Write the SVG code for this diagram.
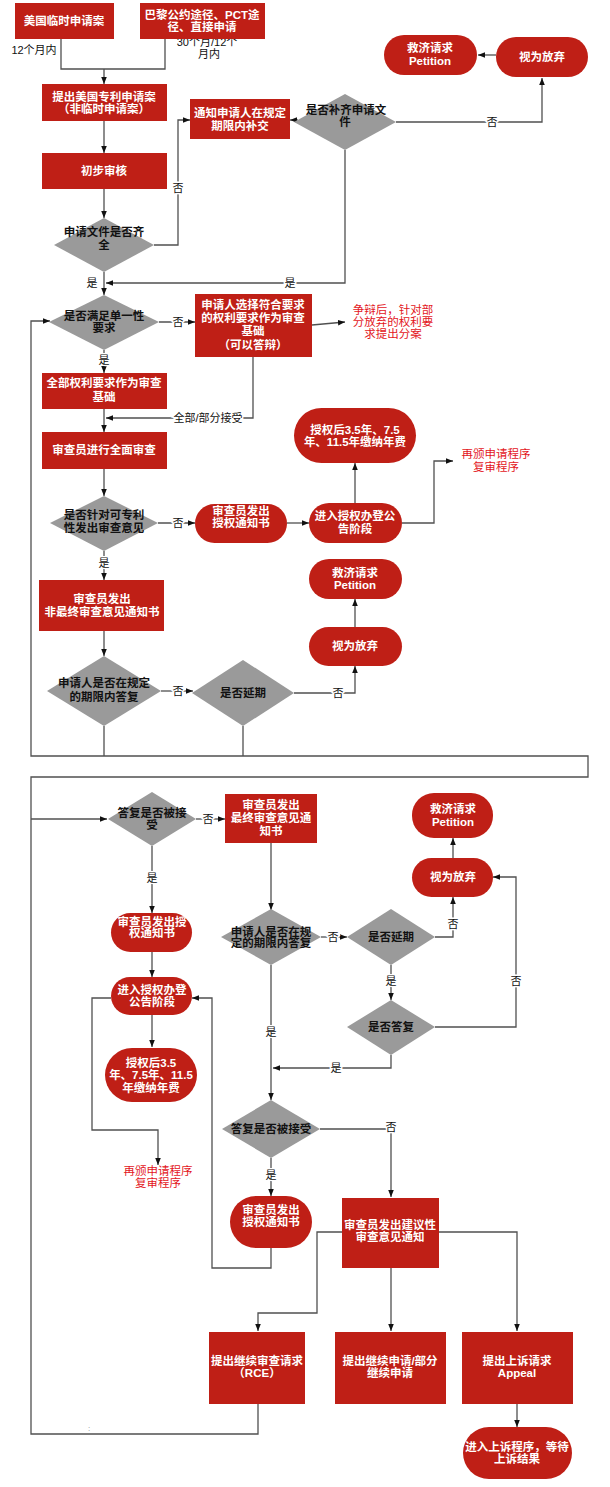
<svg xmlns="http://www.w3.org/2000/svg" width="610" height="1487" viewBox="0 0 610 1487">
<defs>
<style>
.box{fill:#BF1F16}
.dia{fill:#9A9A9A}
text{font-family:"Liberation Sans","Noto Sans CJK SC",sans-serif;dominant-baseline:central;text-anchor:middle}
.wt{fill:#fff;font-weight:bold;font-size:11.5px}
.bt{fill:#111;font-weight:bold;font-size:11.5px}
.lbl{fill:#111;font-size:11px;stroke:#fff;stroke-width:3;paint-order:stroke}
.plain{fill:#111;font-size:11px}
.red{fill:#E3161C;font-size:11.5px}
.ln{fill:none;stroke:#505050;stroke-width:1.3}
.ar{marker-end:url(#ah)}
</style>
<marker id="ah" viewBox="0 0 10 10" refX="10" refY="5" markerWidth="7" markerHeight="7" orient="auto" markerUnits="userSpaceOnUse"><path d="M0,1 L10,5 L0,9 z" fill="#111"/></marker>
</defs>
<rect width="610" height="1487" fill="#fff"/>

<g id="connectors">
<path class="ln" d="M61,39 V69 H165 V39"/>
<path class="ln ar" d="M104,69 V84"/>
<path class="ln ar" d="M104,121 V153"/>
<path class="ln ar" d="M104,189 V218"/>
<path class="ln ar" d="M154,245 H178 V120 H190"/>
<path class="ln ar" d="M298,120 H290"/>
<path class="ln ar" d="M396,122 H542 V78"/>
<path class="ln ar" d="M496,55 H478"/>
<path class="ln ar" d="M345,150 V283 H106"/>
<path class="ln ar" d="M104,272 V295"/>
<path class="ln ar" d="M159,322 H195"/>
<path class="ln ar" d="M312,325 L345,322"/>
<path class="ln ar" d="M258,1404 V1434 H31 V777 H588 V756 H31 V321 H50"/>
<path class="ln ar" d="M31,819 H107"/>
<path class="ln ar" d="M104,350 V373"/>
<path class="ln ar" d="M104,409 V432"/>
<path class="ln ar" d="M253,357 V418 H106"/>
<path class="ln ar" d="M104,469 V496"/>
<path class="ln ar" d="M158,523 H195"/>
<path class="ln ar" d="M287,523 H309"/>
<path class="ln ar" d="M355,503 V463"/>
<path class="ln ar" d="M402,523 H434 V461 H453"/>
<path class="ln ar" d="M104,551 V580"/>
<path class="ln ar" d="M104,631 V656"/>
<path class="ln ar" d="M161,691 H193"/>
<path class="ln ar" d="M294,693 H355 V666"/>
<path class="ln ar" d="M355,627 V599"/>
<path class="ln" d="M104,726 V756"/>
<path class="ln" d="M243,726 V756"/>
<path class="ln ar" d="M196,819 H225"/>
<path class="ln ar" d="M271,843 V910"/>
<path class="ln ar" d="M152,846 V913"/>
<path class="ln ar" d="M152,952 V977"/>
<path class="ln ar" d="M152,1015 V1047"/>
<path class="ln ar" d="M111,998 H92 V1130 H158 V1165"/>
<path class="ln ar" d="M321,937 H347"/>
<path class="ln ar" d="M435,937 H453 V897"/>
<path class="ln ar" d="M453,858 V838"/>
<path class="ln ar" d="M391,965 V1000"/>
<path class="ln ar" d="M435,1027 H516 V877 H493"/>
<path class="ln ar" d="M391,1055 V1068 H273"/>
<path class="ln ar" d="M271,965 V1100"/>
<path class="ln ar" d="M320,1129 H391 V1197"/>
<path class="ln ar" d="M271,1158 V1196"/>
<path class="ln ar" d="M271,1248 V1268 H212 V998 H192"/>
<path class="ln ar" d="M342,1232 H317 V1313 H258 V1331"/>
<path class="ln ar" d="M391,1268 V1331"/>
<path class="ln ar" d="M439,1232 H517 V1331"/>
<path class="ln ar" d="M517,1404 V1427"/>
</g>

<g id="labels">
<text class="plain" x="34" y="50">12个月内</text>
<text class="plain" x="207" y="42">30个月/12个</text>
<text class="plain" x="209" y="54">月内</text>
<text class="lbl" x="178" y="188">否</text>
<text class="lbl" x="492" y="122">否</text>
<text class="lbl" x="92" y="283">是</text>
<text class="lbl" x="290" y="283">是</text>
<text class="lbl" x="178" y="322">否</text>
<text class="lbl" x="104" y="360">是</text>
<text class="lbl" x="208" y="418">全部/部分接受</text>
<text class="lbl" x="178" y="523">否</text>
<text class="lbl" x="104" y="563">是</text>
<text class="lbl" x="178" y="691">否</text>
<text class="lbl" x="338" y="693">否</text>
<text class="lbl" x="208" y="819">否</text>
<text class="lbl" x="152" y="878">是</text>
<text class="lbl" x="333" y="937">否</text>
<text class="lbl" x="453" y="924">否</text>
<text class="lbl" x="391" y="981">是</text>
<text class="lbl" x="516" y="981">否</text>
<text class="lbl" x="336" y="1068">是</text>
<text class="lbl" x="271" y="1032">是</text>
<text class="lbl" x="391" y="1127">否</text>
<text class="lbl" x="271" y="1175">是</text>
<text x="89" y="1428" style="fill:#888;font-size:8px">:</text>
</g>

<g id="n1"><rect class="box" x="15" y="3" width="99" height="36"/><text class="wt" x="64" y="21">美国临时申请案</text></g>
<g id="n2"><rect class="box" x="140" y="3" width="125" height="36"/><text class="wt" x="202" y="15">巴黎公约途径、PCT途</text><text class="wt" x="202" y="27">径、直接申请</text></g>
<g id="n3"><rect class="box" x="42" y="84" width="125" height="37"/><text class="wt" x="104" y="97">提出美国专利申请案</text><text class="wt" x="104" y="109">（非临时申请案）</text></g>
<g id="n4"><rect class="box" x="42" y="153" width="125" height="36"/><text class="wt" x="104" y="171">初步审核</text></g>
<g id="d1"><polygon class="dia" points="104,218 154,245 104,272 54,245"/><text class="bt" x="104" y="232">申请文件是否齐</text><text class="bt" x="104" y="245">全</text></g>
<g id="n5"><rect class="box" x="190" y="99" width="100" height="40"/><text class="wt" x="240" y="113">通知申请人在规定</text><text class="wt" x="240" y="126">期限内补交</text></g>
<g id="d2"><polygon class="dia" points="345,94 396,122 345,150 294,122"/><text class="bt" x="346" y="110">是否补齐申请文</text><text class="bt" x="345" y="122">件</text></g>
<g id="n6"><rect class="box" x="496" y="37" width="92" height="40" rx="20"/><text class="wt" x="542" y="57">视为放弃</text></g>
<g id="n7"><rect class="box" x="384" y="35" width="93" height="40" rx="20"/><text class="wt" x="430" y="48">救济请求</text><text class="wt" x="430" y="61">Petition</text></g>
<g id="d3"><polygon class="dia" points="104,295 159,322 104,350 49,322"/><text class="bt" x="104" y="316">是否满足单一性</text><text class="bt" x="104" y="328">要求</text></g>
<g id="n8"><rect class="box" x="195" y="294" width="117" height="63"/><text class="wt" x="253" y="305">申请人选择符合要求</text><text class="wt" x="253" y="318">的权利要求作为审查</text><text class="wt" x="253" y="331">基础</text><text class="wt" x="253" y="345">（可以答辩）</text></g>
<g id="t1"><text class="red" x="393" y="310">争辩后，针对部</text><text class="red" x="393" y="322">分放弃的权利要</text><text class="red" x="393" y="334">求提出分案</text></g>
<g id="n9"><rect class="box" x="42" y="373" width="125" height="36"/><text class="wt" x="104" y="383">全部权利要求作为审查</text><text class="wt" x="104" y="397">基础</text></g>
<g id="n10"><rect class="box" x="42" y="432" width="125" height="37"/><text class="wt" x="104" y="450">审查员进行全面审查</text></g>
<g id="d4"><polygon class="dia" points="104,496 158,523 104,551 50,523"/><text class="bt" x="104" y="515">是否针对可专利</text><text class="bt" x="104" y="528">性发出审查意见</text></g>
<g id="n11"><rect class="box" x="195" y="504" width="92" height="39" rx="19.5"/><text class="wt" x="241" y="511">审查员发出</text><text class="wt" x="241" y="523">授权通知书</text></g>
<g id="n12"><rect class="box" x="309" y="503" width="93" height="40" rx="20"/><text class="wt" x="355" y="516">进入授权办登公</text><text class="wt" x="355" y="529">告阶段</text></g>
<g id="n13"><rect class="box" x="294" y="408" width="122" height="55" rx="27.5"/><text class="wt" x="355" y="430">授权后3.5年、7.5</text><text class="wt" x="355" y="442">年、11.5年缴纳年费</text></g>
<g id="t2"><text class="red" x="496" y="454">再颁申请程序</text><text class="red" x="496" y="467">复审程序</text></g>
<g id="n14"><rect class="box" x="39" y="580" width="125" height="51"/><text class="wt" x="102" y="599">审查员发出</text><text class="wt" x="102" y="612">非最终审查意见通知书</text></g>
<g id="d5"><polygon class="dia" points="104,656 161,691 104,726 47,691"/><text class="bt" x="104" y="683">申请人是否在规定</text><text class="bt" x="104" y="697">的期限内答复</text></g>
<g id="d6"><polygon class="dia" points="243,660 294,693 243,726 192,693"/><text class="bt" x="243" y="693">是否延期</text></g>
<g id="n15"><rect class="box" x="309" y="627" width="93" height="39" rx="19.5"/><text class="wt" x="355" y="646">视为放弃</text></g>
<g id="n16"><rect class="box" x="309" y="559" width="93" height="40" rx="20"/><text class="wt" x="355" y="573">救济请求</text><text class="wt" x="355" y="585">Petition</text></g>
<g id="d7"><polygon class="dia" points="152,792 196,819 152,846 108,819"/><text class="bt" x="152" y="813">答复是否被接</text><text class="bt" x="152" y="825">受</text></g>
<g id="n17"><rect class="box" x="225" y="794" width="92" height="49"/><text class="wt" x="271" y="805">审查员发出</text><text class="wt" x="271" y="818">最终审查意见通</text><text class="wt" x="271" y="831">知书</text></g>
<g id="n18"><rect class="box" x="111" y="913" width="81" height="39" rx="19.5"/><text class="wt" x="152" y="922">审查员发出授</text><text class="wt" x="152" y="933">权通知书</text></g>
<g id="n19"><rect class="box" x="111" y="977" width="81" height="38" rx="19"/><text class="wt" x="152" y="990">进入授权办登</text><text class="wt" x="152" y="1002">公告阶段</text></g>
<g id="n20"><rect class="box" x="105" y="1048" width="92" height="54" rx="27"/><text class="wt" x="151" y="1063">授权后3.5</text><text class="wt" x="151" y="1075">年、7.5年、11.5</text><text class="wt" x="151" y="1088">年缴纳年费</text></g>
<g id="t3"><text class="red" x="158" y="1171">再颁申请程序</text><text class="red" x="158" y="1183">复审程序</text></g>
<g id="d8"><polygon class="dia" points="271,909 321,937 271,965 221,937"/><text class="bt" x="271" y="932">申请人是否在规</text><text class="bt" x="271" y="943">定的期限内答复</text></g>
<g id="d9"><polygon class="dia" points="391,909 435,937 391,965 347,937"/><text class="bt" x="391" y="937">是否延期</text></g>
<g id="n21"><rect class="box" x="412" y="858" width="81" height="39" rx="19.5"/><text class="wt" x="453" y="877">视为放弃</text></g>
<g id="n22"><rect class="box" x="412" y="793" width="81" height="45" rx="22"/><text class="wt" x="453" y="809">救济请求</text><text class="wt" x="453" y="822">Petition</text></g>
<g id="d10"><polygon class="dia" points="391,1000 435,1027 391,1055 347,1027"/><text class="bt" x="391" y="1027">是否答复</text></g>
<g id="d11"><polygon class="dia" points="271,1100 320,1129 271,1158 222,1129"/><text class="bt" x="271" y="1129">答复是否被接受</text></g>
<g id="n23"><rect class="box" x="230" y="1196" width="82" height="52" rx="26"/><text class="wt" x="271" y="1210">审查员发出</text><text class="wt" x="271" y="1222">授权通知书</text></g>
<g id="n24"><rect class="box" x="342" y="1198" width="97" height="70"/><text class="wt" x="390" y="1225">审查员发出建议性</text><text class="wt" x="390" y="1237">审查意见通知</text></g>
<g id="n25"><rect class="box" x="209" y="1332" width="96" height="72"/><text class="wt" x="257" y="1361">提出继续审查请求</text><text class="wt" x="257" y="1373">（RCE）</text></g>
<g id="n26"><rect class="box" x="335" y="1332" width="111" height="72"/><text class="wt" x="390" y="1361">提出继续申请/部分</text><text class="wt" x="390" y="1373">继续申请</text></g>
<g id="n27"><rect class="box" x="462" y="1332" width="111" height="72"/><text class="wt" x="517" y="1361">提出上诉请求</text><text class="wt" x="517" y="1373">Appeal</text></g>
<g id="n28"><rect class="box" x="463" y="1427" width="109" height="52" rx="26"/><text class="wt" x="517" y="1447">进入上诉程序，等待</text><text class="wt" x="517" y="1459">上诉结果</text></g>
</svg>
